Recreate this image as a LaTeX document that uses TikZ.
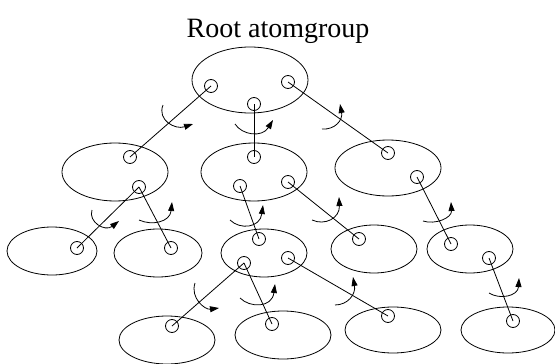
\documentclass[tikz,border=0pt]{standalone}
\usepackage{fontspec}
\setmainfont{Liberation Serif}
\usetikzlibrary{shapes.geometric,arrows.meta}
\begin{document}
\begin{tikzpicture}[x=1pt,y=-1pt,line width=0.8pt,
  grp/.style 2 args={draw,ellipse,inner sep=0pt,minimum width=#1pt,minimum height=#2pt},
  atom/.style={draw,circle,inner sep=0pt,minimum size=13pt},
  bond/.style={draw},
  rot/.style={-{Stealth[inset=0pt,length=9pt,width=6pt]}}]
\useasboundingbox (0,0) rectangle (555,364);

\node (title) at (278,31) {\fontsize{28}{32}\selectfont Root atomgroup};

% atom groups
\node[grp={116}{66}] (root) at (250,80) {};
\node[grp={106}{58}] (ga) at (115,172) {};
\node[grp={106}{58}] (gb) at (254,172) {};
\node[grp={106}{56}] (gc) at (388,168) {};
\node[grp={90}{48}]  (gd) at (52,251) {};
\node[grp={88}{48}]  (ge) at (158,253) {};
\node[grp={86}{48}]  (gf) at (264,253) {};
\node[grp={86}{48}]  (gg) at (374,249) {};
\node[grp={86}{48}]  (gh) at (470,249) {};
\node[grp={96}{48}]  (gk1) at (167,340) {};
\node[grp={96}{48}]  (gk2) at (283,335) {};
\node[grp={96}{46}]  (gk3) at (393,330) {};
\node[grp={94}{46}]  (gk4) at (508,330) {};

% atoms
\node[atom] (r1) at (211,86) {};
\node[atom] (r2) at (254,104) {};
\node[atom] (r3) at (288,82) {};
\node[atom] (a1) at (130,157) {};
\node[atom] (a2) at (139,187) {};
\node[atom] (b1) at (254,157) {};
\node[atom] (b2) at (240,186) {};
\node[atom] (b3) at (288,182) {};
\node[atom] (c1) at (388,153) {};
\node[atom] (c2) at (417,177) {};
\node[atom] (d1) at (77,248) {};
\node[atom] (e1) at (171,248) {};
\node[atom] (f1) at (259,239) {};
\node[atom] (f2) at (244,263) {};
\node[atom] (f3) at (288,258) {};
\node[atom] (g1) at (359,239) {};
\node[atom] (h1) at (451,244) {};
\node[atom] (h2) at (489,258) {};
\node[atom] (k1) at (172,326) {};
\node[atom] (k2) at (272,324) {};
\node[atom] (k3) at (388,316) {};
\node[atom] (k4) at (513,321) {};

% bonds between groups
\draw[bond] (r1.center) -- (a1.center);
\draw[bond] (r2.center) -- (b1.center);
\draw[bond] (r3.center) -- (c1.center);
\draw[bond] (a2.center) -- (d1.center);
\draw[bond] (a2.center) -- (e1.center);
\draw[bond] (b2.center) -- (f1.center);
\draw[bond] (b3.center) -- (g1.center);
\draw[bond] (c2.center) -- (h1.center);
\draw[bond] (f2.center) -- (k1.center);
\draw[bond] (f2.center) -- (k2.center);
\draw[bond] (f3.center) -- (k3.center);
\draw[bond] (h2.center) -- (k4.center);

% rotations about the bonds
\draw[rot] (163,105) .. controls (157,120) and (175,130) .. (193,124);
\draw[rot] (235,124) .. controls (242,135) and (262,138) .. (273,120);
\draw[rot] (322,129) .. controls (335,130) and (343,120) .. (340,104);
\draw[rot] (92,210) .. controls (88,222) and (105,232) .. (119,221);
\draw[rot] (139,220) .. controls (152,226) and (170,222) .. (172,202);
\draw[rot] (230,220) .. controls (240,230) and (260,228) .. (263,205);
\draw[rot] (312,220) .. controls (325,226) and (340,218) .. (339,197);
\draw[rot] (423,221) .. controls (435,225) and (452,218) .. (451,202);
\draw[rot] (195,283) .. controls (190,298) and (205,310) .. (219,308);
\draw[rot] (240,298) .. controls (250,308) and (272,308) .. (275,284);
\draw[rot] (335,305) .. controls (348,305) and (356,294) .. (353,277);
\draw[rot] (489,293) .. controls (500,300) and (518,296) .. (519,278);
\end{tikzpicture}
\end{document}
